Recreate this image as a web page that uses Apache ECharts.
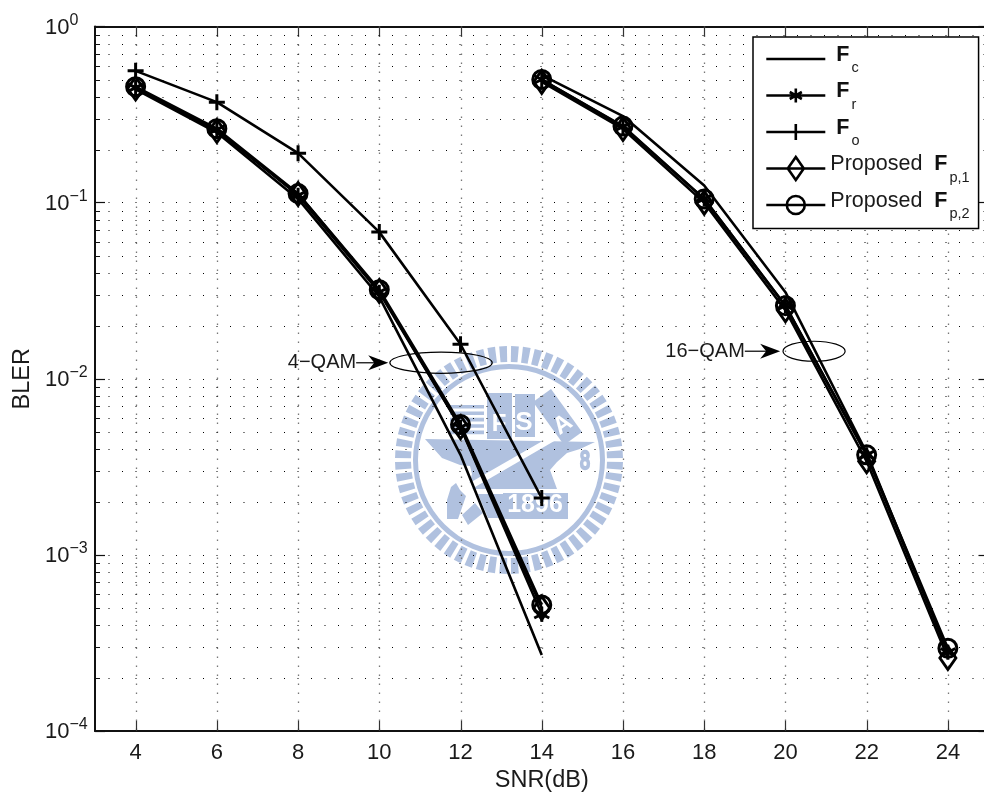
<!DOCTYPE html>
<html><head><meta charset="utf-8">
<script src="https://cdn.jsdelivr.net/npm/echarts@6/dist/echarts.min.js"></script>
<style>html,body{margin:0;padding:0;background:#fff}#c{width:984px;height:794px}</style>
</head><body><div id="c"></div>
<script>
const FONT = '"Liberation Sans", Arial, sans-serif';
const snr4 = [4, 6, 8, 10, 12, 14];
const snr16 = [14, 16, 18, 20, 22, 24];
const fc4 = [0.44, 0.25, 0.105, 0.0292, 0.0037, 0.00027];
const fr4 = [0.45, 0.26, 0.11, 0.031, 0.0053, 0.00046];
const fo4 = [0.56, 0.372, 0.191, 0.068, 0.0157, 0.0021];
const p14 = [0.445, 0.255, 0.112, 0.0315, 0.0053, 0.0005];
const p24 = [0.455, 0.263, 0.1125, 0.032, 0.0055, 0.00052];
const fc16 = [0.53, 0.31, 0.125, 0.031, 0.0038, 0.00028];
const fr16 = [0.5, 0.27, 0.105, 0.026, 0.0037, 0.00028];
const p116 = [0.485, 0.262, 0.1, 0.0245, 0.0034, 0.00026];
const p216 = [0.5, 0.272, 0.105, 0.026, 0.0037, 0.000295];
const minorY = [];
[1e-4, 1e-3, 1e-2, 1e-1].forEach(d => [2,3,4,5,6,7,8,9].forEach(m => minorY.push(+(d*m).toPrecision(3))));
const annotLabels = ['4\u2212QAM', '16\u2212QAM'];
const annotArrowFrom = [9.43, 19.0];
const annotArrowTo = [10.22, 19.87];
const annotEllipseX = [[10.26, 12.78], [19.94, 21.47]];
const annotEllipseY = [[0.01415, 0.01074], [0.01633, 0.01257]];

const ASTER = 'path://M0 -10L0 10M-8.66 -5L8.66 5M-8.66 5L8.66 -5';
const PLUS = 'path://M-10 0L10 0M0 -10L0 10';
const lw = 2.6;
function line(name, xs, ys, symbol, size) {
  return {
    type: 'line', name, data: xs.map((x,i) => [x, ys[i]]), symbol, symbolSize: size,
    showSymbol: symbol !== 'none', showAllSymbol: true, animation: false, z: 5, clip: false,
    lineStyle: { color: '#000', width: lw },
    itemStyle: { color: 'rgba(0,0,0,0)', borderColor: '#000', borderWidth: 3 },
    emphasis: { disabled: true }
  };
}
const N = { c: 'Fc', r: 'Fr', o: 'Fo', p1: 'Proposed Fp,1', p2: 'Proposed Fp,2' };
const legendText = {
  [N.c]: '{gap|}{b|F}{s|c}', [N.r]: '{gap|}{b|F}{s|r}', [N.o]: '{gap|}{b|F}{s|o}',
  [N.p1]: '{t|Proposed  }{b|F}{s|p,1}', [N.p2]: '{t|Proposed  }{b|F}{s|p,2}'
};
const ICON_BASE = 'M0 11.5L59 11.5';
const legendIcons = {
  [N.c]: 'path://' + ICON_BASE + 'M29.5 0L29.5 0M29.5 23L29.5 23',
  [N.r]: 'path://' + ICON_BASE + 'M29.5 0L29.5 0M29.5 23L29.5 23M29.5 4.5L29.5 18.5M23.44 8L35.56 15M23.44 15L35.56 8',
  [N.o]: 'path://' + ICON_BASE + 'M29.5 0L29.5 0M29.5 23L29.5 23M29.5 3.5L29.5 19.5',
  [N.p1]: 'path://' + ICON_BASE + 'M29.5 0L37.5 11.5L29.5 23L21.5 11.5Z',
  [N.p2]: 'path://' + ICON_BASE + 'M29.5 0L29.5 0M29.5 23L29.5 23M20.5 11.5A9 9 0 1 1 38.5 11.5A9 9 0 1 1 20.5 11.5'
};
const BL = '#b0c1df';
const cx = 509, cy = 460;
const wm = [];
for (let i = 0; i < 60; i++) {
  const a = (i + 0.5) / 60 * Math.PI * 2, h = 0.034;
  const P = (r, d) => [cx + r * Math.cos(a + d), cy + r * Math.sin(a + d)];
  wm.push({ type: 'polygon', shape: { points: [P(98, -h), P(114, -h), P(114, h), P(98, h)] }, style: { fill: BL }, silent: true });
}
wm.push({ type: 'ring', shape: { cx, cy, r: 96, r0: 91 }, style: { fill: BL }, silent: true });
const poly = pts => wm.push({ type: 'polygon', shape: { points: pts }, style: { fill: BL }, silent: true });
// anvil body
poly([[425,439],[595,442],[580,449],[567,453],[557,462],[550,470],[557,489],[468,489],[472,474],[470,466],[460,465],[442,458]]);
// stripes
for (let k = 0; k < 5; k++) wm.push({ type: 'rect', shape: { x: 450, y: 405 + k * 6.4, width: 34, height: 3.6 }, style: { fill: BL }, silent: true });
wm.push({ type: 'rect', shape: { x: 487, y: 393, width: 25, height: 46 }, style: { fill: BL }, silent: true });
wm.push({ type: 'rect', shape: { x: 515, y: 394, width: 20, height: 43 }, style: { fill: BL }, silent: true });
poly([[533,402],[551,389],[582,432],[564,445]]);
// plate
wm.push({ type: 'rect', shape: { x: 503, y: 493, width: 65, height: 26 }, style: { fill: BL }, silent: true });
// handle
wm.push({ type: 'polygon', shape: { points: [[553,435],[556,440],[463,494],[459,489]] }, style: { fill: '#fff' }, silent: true });
// hammer foot
poly([[447,519],[447,500],[451,487],[456,483],[460,490],[466,496],[458,519]]);
poly([[462,515],[475,503],[483,513],[468,525]]);
poly([[478,494],[503,494],[503,518],[488,518]]);
const wt = (text, x, y, size, fill, rot, weight) => wm.push({ type: 'text', x, y, rotation: rot || 0, silent: true,
  style: { text, fill, font: (weight || 'bold') + ' ' + size + 'px ' + FONT, align: 'center', verticalAlign: 'middle' } });
wt('F', 499, 424, 24, '#fff');
wt('S', 524, 423, 26, '#fff');
wt('A', 563, 425, 24, '#fff', 0.6);
wt('1896', 535, 505, 25, '#fff');
wm.push({ type: 'text', x: 585, y: 462, silent: true, scaleY: 1.4,
  style: { text: '8', fill: 'rgba(0,0,0,0)', stroke: BL, lineWidth: 1.8, font: '18px ' + FONT, align: 'center', verticalAlign: 'middle' } });

const option = {
  animation: false,
  backgroundColor: '#fff',
  textStyle: { fontFamily: FONT, color: '#1a1a1a' },
  graphic: { z: -5, elements: wm },
  grid: { left: 95, top: 26.5, width: 893.5, height: 704.5, containLabel: false, outerBoundsMode: 'none' },
  legend: {
    left: 753, top: 37, orient: 'vertical', padding: [7, 9, 7, 12], itemGap: 5,
    itemWidth: 59, itemHeight: 23, itemTextGap: 7,
    backgroundColor: '#fff', borderColor: '#000', borderWidth: 1.5, z: 20,
    selectedMode: false,
    itemStyle: { color: 'rgba(0,0,0,0)', borderColor: '#000', borderWidth: 2.6 },
    data: [N.c, N.r, N.o, N.p1, N.p2].map(n => ({ name: n, icon: legendIcons[n] })),
    formatter: n => legendText[n],
    textStyle: { fontFamily: FONT, color: '#1a1a1a', fontSize: 21,
      rich: {
        gap: { width: 6, fontSize: 21 },
        t: { fontSize: 21.5, fontFamily: FONT, color: '#1a1a1a', padding: [0, 0, 8, 0] },
        b: { fontSize: 21.5, fontFamily: FONT, fontWeight: 'bold', color: '#111', padding: [0, 0, 8, 0] },
        s: { fontSize: 14.5, fontFamily: FONT, color: '#1a1a1a', padding: [18, 0, 0, 2] }
      } }
  },
  xAxis: [{
    type: 'value', min: 3, max: 25, interval: 2, position: 'bottom', name: 'SNR(dB)', nameLocation: 'middle', nameGap: 38,
    nameTextStyle: { fontSize: 23.5, fontFamily: FONT, color: '#1a1a1a' },
    axisLine: { lineStyle: { color: '#111', width: 2 }, onZero: false },
    axisTick: { show: false },
    axisLabel: { fontSize: 22, fontFamily: FONT, color: '#1a1a1a', margin: 11, customValues: [4,6,8,10,12,14,16,18,20,22,24] },
    splitLine: { show: false }
  }, {
    type: 'value', min: 3, max: 25, position: 'top',
    axisLine: { lineStyle: { color: '#111', width: 2 }, onZero: false },
    axisTick: { show: false }, axisLabel: { show: false }, splitLine: { show: false }
  }],
  yAxis: [{
    type: 'log', logBase: 10, min: 1e-4, max: 1, position: 'left', name: 'BLER', nameLocation: 'middle', nameGap: 58,
    nameTextStyle: { fontSize: 23.5, fontFamily: FONT, color: '#1a1a1a' },
    axisLine: { lineStyle: { color: '#111', width: 2 }, onZero: false },
    axisTick: { inside: true, length: 10, lineStyle: { color: '#111', width: 1.2 } },
    minorTick: { show: false },
    axisLabel: {
      align: 'left', margin: 50, fontSize: 22, fontFamily: FONT, color: '#1a1a1a', padding: [2, 0, 0, 0],
      formatter: v => { const e = Math.round(Math.log10(v)); return '10{sup|' + (e < 0 ? '\u2212' + (-e) : e) + '}'; },
      rich: { sup: { fontSize: 16, fontFamily: FONT, color: '#1a1a1a', padding: [0, 0, 14, 0] } }
    },
    splitLine: { show: true, lineStyle: { color: '#000', type: [1, 12.5], width: 1 } }
  }, {
    type: 'log', logBase: 10, min: 1e-4, max: 1, position: 'right',
    axisLine: { lineStyle: { color: '#111', width: 2 }, onZero: false },
    axisTick: { inside: true, length: 10, lineStyle: { color: '#111', width: 1.2 } },
    axisLabel: { show: false }, splitLine: { show: false }
  }],
  series: [
    { // vertical grid and x ticks, top and bottom
      type: 'custom', silent: true, animation: false, z: 1, clip: false,
      data: [4,6,8,10,12,14,16,18,20,22,24].map(v => [v]),
      encode: { x: 0 },
      renderItem: (p, api) => {
        const x = Math.round(api.coord([api.value(0), 1])[0]) + 0.5;
        const t = api.coord([3, 1])[1], b = api.coord([3, 1e-4])[1];
        const st = { stroke: '#777', lineWidth: 1.3, lineDash: [1.5, 7.5] };
        const tk = { stroke: '#333', lineWidth: 1.2 };
        return { type: 'group', children: [
          { type: 'line', shape: { x1: x, y1: t, x2: x, y2: b }, style: st },
          { type: 'line', shape: { x1: x, y1: t, x2: x, y2: t + 10 }, style: tk },
          { type: 'line', shape: { x1: x, y1: b, x2: x, y2: b - 10 }, style: tk }
        ] };
      }
    },
    { // minor log grid
      type: 'custom', silent: true, animation: false, z: 1, clip: false,
      data: minorY.map(v => [3, v]),
      encode: { x: 0, y: 1 },
      renderItem: (p, api) => {
        const c = api.coord([3, api.value(1)]), e = api.coord([25, api.value(1)]);
        const y = Math.round(c[1]) + 0.5;
        const tk = { stroke: '#111', lineWidth: 1 };
        return { type: 'group', children: [
          { type: 'line', shape: { x1: c[0], y1: y, x2: e[0], y2: y }, style: { stroke: '#000', lineWidth: 1, lineDash: [1, 12.5] } },
          { type: 'line', shape: { x1: c[0], y1: y, x2: c[0] + 5, y2: y }, style: tk },
          { type: 'line', shape: { x1: e[0], y1: y, x2: e[0] - 5, y2: y }, style: tk }
        ] };
      }
    },
    line(N.c, snr4, fc4, 'none', 0),
    line(N.r, snr4, fr4, ASTER, 15),
    line(N.o, snr4, fo4, PLUS, 16),
    line(N.p1, snr4, p14, 'diamond', [16, 23]),
    line(N.p2, snr4, p24, 'circle', 18),
    line(N.c, snr16, fc16, 'none', 0),
    line(N.r, snr16, fr16, ASTER, 15),
    line(N.p1, snr16, p116, 'diamond', [16, 23]),
    line(N.p2, snr16, p216, 'circle', 18),
    { // annotations
      type: 'custom', silent: true, animation: false, z: 4, clip: false,
      data: annotLabels.map((l, i) => [i]),
      encode: { x: -1, y: -1 },
      renderItem: (p, api) => {
        const i = api.value(0);
        const ex = annotEllipseX[i], ey = annotEllipseY[i];
        const tl = api.coord([ex[0], ey[0]]), br = api.coord([ex[1], ey[1]]);
        const ecx = (tl[0] + br[0]) / 2, ecy = (tl[1] + br[1]) / 2;
        const a = api.coord([annotArrowFrom[i], (ey[0] * ey[1]) ** 0.5]);
        const b = api.coord([annotArrowTo[i], (ey[0] * ey[1]) ** 0.5]);
        return { type: 'group', children: [
          { type: 'ellipse', shape: { cx: ecx, cy: ecy, rx: (br[0] - tl[0]) / 2, ry: (br[1] - tl[1]) / 2 }, style: { fill: 'none', stroke: '#000', lineWidth: 1.2 } },
          { type: 'line', shape: { x1: a[0], y1: a[1], x2: b[0] - 12, y2: b[1] }, style: { stroke: '#222', lineWidth: 1.4 } },
          { type: 'polygon', shape: { points: [[b[0], b[1]], [b[0] - 20, b[1] - 7.5], [b[0] - 14, b[1]], [b[0] - 20, b[1] + 7.5]] }, style: { fill: '#000' } },
          { type: 'text', style: { x: a[0], y: a[1], text: annotLabels[i], align: 'right', verticalAlign: 'middle', fill: '#1a1a1a', font: '20px ' + FONT } }
        ] };
      }
    }
  ]
};
option.series.forEach(s => { if (s.type === 'custom') { s.xAxisIndex = 0; s.yAxisIndex = 0; } });
const chart = echarts.init(document.getElementById('c'), null, { renderer: 'canvas' });
chart.setOption(option);
</script></body></html>
